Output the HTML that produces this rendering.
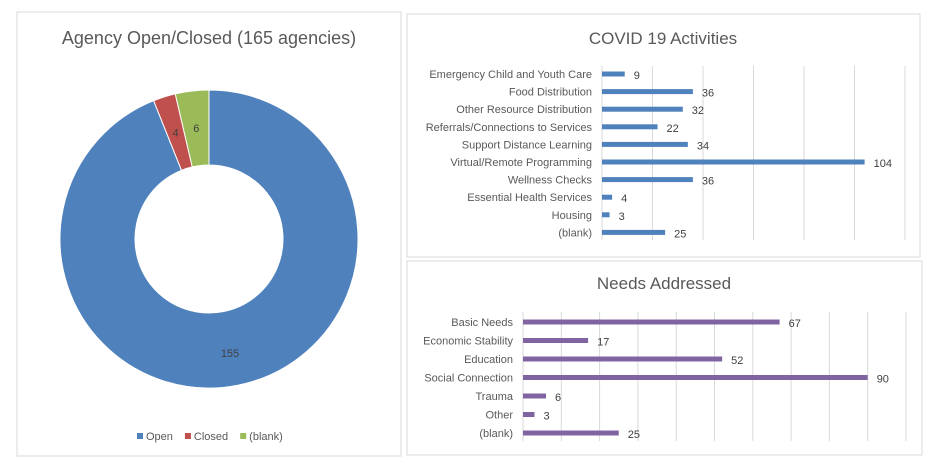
<!DOCTYPE html>
<html><head><meta charset="utf-8"><style>
html,body{margin:0;padding:0;background:#fff;width:939px;height:470px;overflow:hidden;font-family:"Liberation Sans",sans-serif}
svg{display:block}
</style></head><body>
<svg id="root" width="939" height="470">
<rect x="17" y="12" width="384" height="444" fill="#fff" stroke="#d9d9d9"/>
<rect x="407" y="14" width="513" height="243" fill="#fff" stroke="#d9d9d9"/>
<rect x="407" y="261" width="515" height="194" fill="#fff" stroke="#d9d9d9"/>
<text x="209" y="44" text-anchor="middle" font-size="18" fill="#595959">Agency Open/Closed (165 agencies)</text>
<text x="663" y="44" text-anchor="middle" font-size="17" fill="#595959">COVID 19 Activities</text>
<text x="664" y="289" text-anchor="middle" font-size="17" fill="#595959">Needs Addressed</text>
<g id="donut"></g><g id="legend"></g><g id="covid"></g><g id="needs"></g>
</svg>
<script>
const donutCats=["Open","Closed","(blank)"];
const donutVals=[155,4,6];
const donutColors=["#4f81bd","#c0504d","#9bbb59"];
const covidCats=["Emergency Child and Youth Care","Food Distribution","Other Resource Distribution","Referrals/Connections to Services","Support Distance Learning","Virtual/Remote Programming","Wellness Checks","Essential Health Services","Housing","(blank)"];
const covidVals=[9,36,32,22,34,104,36,4,3,25];
const covidTicks=[0,20,40,60,80,100,120];
const needsCats=["Basic Needs","Economic Stability","Education","Social Connection","Trauma","Other","(blank)"];
const needsVals=[67,17,52,90,6,3,25];
const needsTicks=[0,10,20,30,40,50,60,70,80,90,100];
const NS="http://www.w3.org/2000/svg";
function mk(tag,attrs,parent){const e=document.createElementNS(NS,tag);for(const k in attrs)e.setAttribute(k,attrs[k]);parent.appendChild(e);return e;}
// donut
(function(){
 const g=document.getElementById('donut');const cx=209,cy=239,R=149,r=74;
 const tot=donutVals.reduce((a,b)=>a+b,0);let a0=0;
 donutVals.forEach((v,i)=>{
  const a1=a0+v/tot*2*Math.PI;
  const p=(a,rr)=>[cx+rr*Math.sin(a),cy-rr*Math.cos(a)];
  const [x1,y1]=p(a0,R),[x2,y2]=p(a1,R),[x3,y3]=p(a1,r),[x4,y4]=p(a0,r);const lg=(a1-a0)>Math.PI?1:0;
  const s=mk('path',{d:`M${x1},${y1}A${R},${R} 0 ${lg} 1 ${x2},${y2}L${x3},${y3}A${r},${r} 0 ${lg} 0 ${x4},${y4}Z`,fill:donutColors[i],stroke:'#fff','stroke-width':1},g);
  
  
  const am=(a0+a1)/2;let lr=(R+r)/2;let [lx,ly]=p(am,lr);
  if(i===0){lx=cx+21;ly=cy+114;}
  const t=mk('text',{x:lx,y:ly+4,'text-anchor':'middle','font-size':11,fill:'#404040'},g);t.textContent=v;
  
  
  a0=a1;
 });
 const lg=document.getElementById('legend');let x=137;
 donutCats.forEach((c,i)=>{
  const sw=mk('rect',{x:x,y:433,width:6,height:6,fill:donutColors[i]},lg);
  
  
  const t=mk('text',{x:x+9,y:440,'font-size':11,fill:'#595959'},lg);t.textContent=c;
  
  
  x+=9+t.getComputedTextLength()+12;
 });
})();
function bars(id,cats,vals,ticks,o){
 const g=document.getElementById(id);
 const sx=v=>o.x0+(v-ticks[0])/(ticks[ticks.length-1]-ticks[0])*(o.x1-o.x0);
 const sy=i=>o.y0+i*o.step;
 ticks.forEach(t=>{const l=mk('line',{x1:sx(t),x2:sx(t),y1:o.gt,y2:o.gb,stroke:'#d9d9d9','stroke-width':1},g);
  
  });
 cats.forEach((c,i)=>{
  const t=mk('text',{x:o.x0-10,y:sy(i)+4,'text-anchor':'end','font-size':11,fill:'#595959'},g);t.textContent=c;
  
  
  const b=mk('rect',{x:sx(0),y:sy(i)-2.5,width:sx(vals[i])-sx(0),height:5,fill:o.color},g);
  
  
  const v=mk('text',{x:sx(vals[i])+9,y:sy(i)+5,'font-size':11,fill:'#404040'},g);v.textContent=vals[i];
  
  
 });
}
bars('covid',covidCats,covidVals,covidTicks,{x0:602,x1:905,y0:74,step:17.6,gt:66,gb:240,color:'#4f81bd'});
bars('needs',needsCats,needsVals,needsTicks,{x0:523,x1:906,y0:322,step:18.5,gt:312,gb:441,color:'#8064a2'});
</script>
</body></html>
